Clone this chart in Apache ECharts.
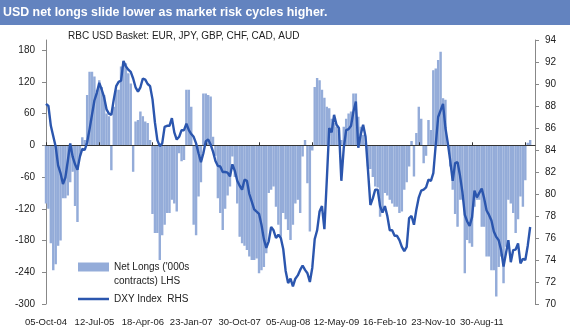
<!DOCTYPE html>
<html><head><meta charset="utf-8">
<script src="https://cdn.jsdelivr.net/npm/echarts@6/dist/echarts.min.js"></script>
<style>html,body{margin:0;padding:0;background:#fff}#c{width:570px;height:329px}</style>
</head><body><div id="c"></div>
<script>
// Tick labels shown on the date axis (every 40 weeks)
const tickLabels = ['05-Oct-04','12-Jul-05','18-Apr-06','23-Jan-07','30-Oct-07','05-Aug-08','12-May-09','16-Feb-10','23-Nov-10','30-Aug-11'];

// Net longs ('000s contracts), fortnightly from 05-Oct-04 (LHS)
const netLongs = [
-110,-120,-185,-236,-225,-190,-180,-100,-100,-95,
-70,-50,-115,-145,-20,15,10,95,139,139,
130,105,123,110,95,60,55,-47,73,105,
105,149,158,155,136,117,-50,45,48,64,
55,45,42,10,-130,-166,-166,-217,-170,-150,
-128,-128,-103,-110,-125,-15,-30,-28,105,105,
73,-150,-170,-97,-70,98,98,95,92,16,
-20,-100,-128,-160,-120,-95,-78,-21,-60,-110,
-173,-185,-190,-198,-210,-217,-217,-214,-242,-236,
-230,-204,-90,-84,-78,-116,-150,-173,-128,-140,
-160,-179,-150,-110,-103,-128,-21,10,-72,-163,
-10,110,127,123,105,90,73,70,50,42,
35,29,10,35,50,60,64,98,98,54,
35,20,5,-40,-45,-60,-78,-80,-135,-120,
-90,-95,-103,-110,-116,-116,-128,-125,-84,-70,
-40,8,-59,23,73,50,-34,-20,48,29,
142,145,161,177,89,86,0,-40,-84,-130,
-154,-103,-103,-242,-179,-185,-192,-116,-103,-103,
-154,-154,-210,-210,-236,-236,-286,-230,-210,-261,
-192,-103,-110,-128,-166,-140,-97,-116,-66,5,
10
];

// DXY index (RHS)
const dxy = [
88.2,88.0,86.2,85.25,84.3,82.6,81.9,80.9,81.5,83.0,
84.6,83.4,82.7,82.2,83.4,84.1,84.0,84.7,85.9,87.2,
88.5,89.2,90.1,89.5,88.8,87.7,87.3,87.2,88.6,89.8,
90.2,90.3,92.1,91.6,91.3,91.1,90.5,89.7,89.3,89.7,
90.5,90.4,90.0,89.8,88.6,86.5,84.9,84.35,84.6,86.1,
86.2,86.2,86.9,85.6,84.95,85.2,85.8,85.8,86.4,85.8,
85.45,85.2,84.6,83.7,82.9,83.7,84.8,84.95,84.5,83.85,
83.0,82.55,82.5,82.0,82.0,81.95,81.6,82.7,82.1,81.2,
80.75,80.4,81.3,81.2,80.0,79.3,78.6,78.4,78.2,77.2,
75.9,75.1,75.7,77.0,76.7,76.0,76.3,76.0,75.0,73.0,
71.9,72.3,71.6,72.3,72.6,73.1,73.5,73.1,72.8,72.0,
73.3,75.9,76.7,78.4,78.9,76.8,81.3,86.0,85.6,87.2,
86.3,86.0,81.2,84.2,85.8,85.9,86.2,87.5,88.4,84.2,
85.4,86.3,85.2,82.2,79.0,79.6,80.4,80.4,78.9,78.3,
78.9,78.0,76.7,76.7,76.2,76.2,75.8,75.2,74.8,75.2,
77.8,78.0,77.2,78.6,79.7,80.3,80.4,80.6,81.3,81.2,
81.9,84.5,87.0,87.6,88.2,86.0,84.6,83.0,81.2,82.8,
82.9,81.7,80.2,78.1,77.5,77.1,77.9,80.3,79.7,80.1,
80.5,79.6,78.5,78.1,77.6,76.6,76.1,75.8,74.9,73.4,
74.6,75.8,73.8,74.9,74.95,75.5,73.7,74.1,74.0,75.3,
77.0
];

const leftTicks = [-300,-240,-180,-120,-60,0,60,120,180];
const seriesNames = ["Net Longs ('000s\ncontracts) LHS", 'DXY Index  RHS'];

// category dates: fortnightly from 05-Oct-04
const months = ['Jan','Feb','Mar','Apr','May','Jun','Jul','Aug','Sep','Oct','Nov','Dec'];
const categories = [];
const start = Date.UTC(2004, 9, 5);
for (let i = 0; i <= 202; i++) {
  const d = new Date(start + i * 14 * 86400000);
  const dd = String(d.getUTCDate()).padStart(2, '0');
  categories.push(dd + '-' + months[d.getUTCMonth()] + '-' + String(d.getUTCFullYear()).slice(2));
}

const BAR = '#94acd9';
const chart = echarts.init(document.getElementById('c'), null, {renderer: 'canvas'});
const FONT = '"Liberation Sans", Arial, sans-serif';
chart.setOption({
  animation: false,
  aria: {enabled: false},
  textStyle: {fontFamily: FONT},
  graphic: [{type: 'rect', left: 0, top: 0, z: -10, shape: {width: 570, height: 25}, style: {fill: '#6383bf'}}],
  title: [
    {text: 'USD net longs slide lower as market risk cycles higher.', left: 3, top: 7, padding: 0,
     textStyle: {color: '#ffffff', fontSize: 12.4, fontWeight: 'bold', fontFamily: FONT}},
    {text: 'RBC USD Basket: EUR, JPY, GBP, CHF, CAD, AUD', left: 68, top: 31, padding: 0,
     textStyle: {color: '#222', fontSize: 10, fontWeight: 'normal', fontFamily: FONT}}
  ],
  grid: {left: 46, right: 35, top: 40, bottom: 25},
  legend: {
    orient: 'vertical', left: 78, top: 246, itemWidth: 31, itemHeight: 9, itemGap: 4, padding: 0,
    textStyle: {fontSize: 10, color: '#222', fontFamily: FONT, lineHeight: 14},
    formatter: (name) => name === seriesNames[0] ? '\n' + name : name,
    data: [
      {name: seriesNames[0], icon: 'rect', itemStyle: {borderWidth: 0}},
      {name: seriesNames[1], icon: 'path://M0,0 L31,0 L31,2.5 L0,2.5 Z'}
    ]
  },
  xAxis: [
    {type: 'category', data: categories, boundaryGap: false, position: 'bottom', z: 5,
     axisLine: {onZero: true, onZeroAxisIndex: 0, lineStyle: {color: '#333', width: 1.2}},
     axisTick: {show: true, inside: true, length: 3, interval: 21, lineStyle: {color: '#333'}},
     axisLabel: {show: false}, splitLine: {show: false}},
    {type: 'category', data: categories, boundaryGap: false, position: 'bottom',
     axisLine: {show: false, onZero: false}, axisTick: {show: false}, splitLine: {show: false},
     axisLabel: {
       interval: (idx) => idx % 20 === 0 && idx / 20 < tickLabels.length,
       formatter: (v, idx) => tickLabels[idx / 20] || '',
       fontSize: 9.5, color: '#222', margin: 13, fontFamily: FONT}}
  ],
  yAxis: [
    {type: 'value', position: 'left', min: -300, max: 199, interval: 60,
     axisLine: {show: true, lineStyle: {color: '#888'}},
     axisTick: {show: true, length: 4, customValues: leftTicks, lineStyle: {color: '#888'}},
     axisLabel: {customValues: leftTicks, fontSize: 10, color: '#222', margin: 11, fontFamily: FONT},
     splitLine: {show: false}},
    {type: 'value', position: 'right', min: 70, max: 94, interval: 2,
     axisLine: {show: true, lineStyle: {color: '#888'}},
     axisTick: {show: true, length: 4, lineStyle: {color: '#888'}},
     axisLabel: {fontSize: 10, color: '#222', margin: 10, fontFamily: FONT},
     splitLine: {show: false}}
  ],
  series: [
    {name: seriesNames[0], type: 'bar', xAxisIndex: 0, yAxisIndex: 0, data: netLongs,
     barWidth: '100%', barCategoryGap: '0%',
     itemStyle: {color: BAR, borderColor: BAR, borderWidth: 1.2}, z: 2},
    {name: seriesNames[1], type: 'line', xAxisIndex: 0, yAxisIndex: 1, data: dxy,
     symbol: 'none', lineStyle: {color: '#2b56ae', width: 2.4}, itemStyle: {color: '#2b56ae'}, z: 6}
  ]
});
</script></body></html>
